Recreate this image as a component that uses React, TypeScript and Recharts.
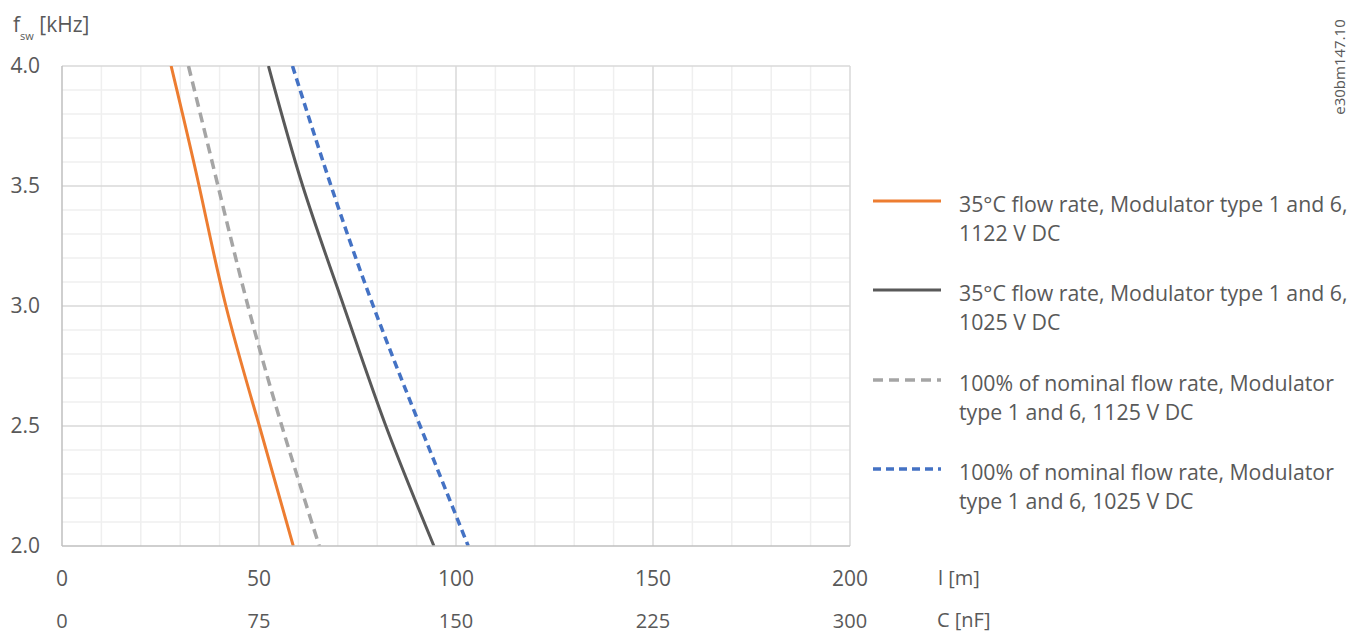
import React from 'react';
import { LineChart, Line, XAxis, YAxis, ReferenceLine } from 'recharts';

const lengthTicks = [0, 50, 100, 150, 200];
const capTicks = [0, 75, 150, 225, 300];
const freqTicks = [2.0, 2.5, 3.0, 3.5, 4.0];
const minorLength = [10, 20, 30, 40, 60, 70, 80, 90, 110, 120, 130, 140, 160, 170, 180, 190];
const minorFreq = [2.1, 2.2, 2.3, 2.4, 2.6, 2.7, 2.8, 2.9, 3.1, 3.2, 3.3, 3.4, 3.6, 3.7, 3.8, 3.9];

const freq = [2.0, 2.5, 3.0, 3.5, 4.0];
const orange1122 = [58.7, 50.1, 41.6, 34.8, 27.7];
const dark1025 = [94.4, 82.2, 71.5, 61.1, 52.4];
const grey1125 = [65.3, 55.8, 47.2, 39.6, 32.1];
const blue1025 = [103.1, 90.9, 79.0, 68.3, 58.5];

const legendLabels = [
  ['35°C flow rate, Modulator type 1 and 6,', '1122 V DC'],
  ['35°C flow rate, Modulator type 1 and 6,', '1025 V DC'],
  ['100% of nominal flow rate, Modulator', 'type 1 and 6, 1125 V DC'],
  ['100% of nominal flow rate, Modulator', 'type 1 and 6, 1025 V DC'],
];

const toSeries = (vals: number[]) =>
  freq.map((f, i) => ({ l: vals[i], f })).sort((a, b) => a.l - b.l);

const FONT = "'Open Sans', sans-serif";
const TEXT = '#595959';
const MINOR = '#efefef';
const MAJOR = '#d9d9d9';

const seriesStyles = [
  { color: '#ED7D31', dash: undefined as string | undefined, width: 3 },
  { color: '#595959', dash: undefined as string | undefined, width: 3 },
  { color: '#A5A5A5', dash: '10 6', width: 3.5 },
  { color: '#4472C4', dash: '8 5', width: 3.5 },
];
const seriesData = [orange1122, dark1025, grey1125, blue1025];

const DualTick = (props: any) => {
  const { x, y, payload, index } = props;
  return (
    <g>
      <text x={x} y={y} textAnchor="middle" dominantBaseline="central" fill={TEXT} fontSize={21} fontFamily={FONT}>
        {payload.value}
      </text>
      <text x={x} y={y + 42} textAnchor="middle" dominantBaseline="central" fill={TEXT} fontSize={20} fontFamily={FONT}>
        {capTicks[index]}
      </text>
    </g>
  );
};

export default function App() {
  const tickStyle = { fill: TEXT, fontSize: 21, fontFamily: FONT };
  const legendTops = [189, 278, 368, 457];
  return (
    <div style={{ position: 'absolute', left: 0, top: 0, width: 1349, height: 635, overflow: 'hidden', background: '#fff', fontFamily: FONT, color: TEXT }}>
      <LineChart width={1349} height={635} margin={{ top: 66, right: 499, bottom: 0, left: 0 }}>
        <XAxis dataKey="l" type="number" domain={[0, 200]} ticks={lengthTicks} allowDataOverflow
          tickSize={0} tickMargin={32} height={89} tick={<DualTick />} interval={0}
          axisLine={{ stroke: '#bfbfbf', strokeWidth: 1.5 }} tickLine={false} />
        <YAxis type="number" domain={[2, 4]} ticks={freqTicks} width={62} allowDataOverflow
          tickSize={0} tickMargin={22} tick={tickStyle} tickFormatter={(v: number) => v.toFixed(1)}
          axisLine={{ stroke: '#bfbfbf', strokeWidth: 1.5 }} tickLine={false} interval={0} />
        {minorLength.map((v) => (
          <ReferenceLine key={'mx' + v} x={v} stroke={MINOR} strokeWidth={1.5} />
        ))}
        {minorFreq.map((v) => (
          <ReferenceLine key={'my' + v} y={v} stroke={MINOR} strokeWidth={1.5} />
        ))}
        {lengthTicks.slice(1).map((v) => (
          <ReferenceLine key={'Mx' + v} x={v} stroke={MAJOR} strokeWidth={1.5} />
        ))}
        {freqTicks.slice(1).map((v) => (
          <ReferenceLine key={'My' + v} y={v} stroke={MAJOR} strokeWidth={1.5} />
        ))}
        {seriesData.map((vals, i) => (
          <Line key={i} data={toSeries(vals)} dataKey="f" type="natural"
            stroke={seriesStyles[i].color} strokeWidth={seriesStyles[i].width}
            strokeDasharray={seriesStyles[i].dash} dot={false} activeDot={false}
            isAnimationActive={false} />
        ))}
      </LineChart>

      <div style={{ position: 'absolute', left: 13, top: 10, fontSize: 21, whiteSpace: 'nowrap', lineHeight: '28px' }}>
        f<span style={{ fontSize: 11, position: 'relative', top: 8 }}>sw</span> [kHz]
      </div>
      <div style={{ position: 'absolute', left: 938, top: 566, fontSize: 20, whiteSpace: 'nowrap', lineHeight: '24px' }}>l [m]</div>
      <div style={{ position: 'absolute', left: 937, top: 608, fontSize: 20, whiteSpace: 'nowrap', lineHeight: '24px' }}>C [nF]</div>

      <svg style={{ position: 'absolute', left: 0, top: 0 }} width={1349} height={635} pointerEvents="none">
        {seriesStyles.map((s, i) => (
          <line key={i} x1={873} x2={941} y1={legendTops[i] + 12} y2={legendTops[i] + 12}
            stroke={s.color} strokeWidth={s.width} strokeDasharray={s.dash} />
        ))}
        <text x={1339} y={67} transform="rotate(-90 1339 67)" textAnchor="middle" dominantBaseline="central"
          fontSize={15} fontFamily={FONT} fill={TEXT}>e30bm147.10</text>
      </svg>

      {legendLabels.map((lines, i) => (
        <div key={i} style={{ position: 'absolute', left: 959, top: legendTops[i], fontSize: 21.3, lineHeight: '29px', whiteSpace: 'nowrap' }}>
          {lines[0]}<br />{lines[1]}
        </div>
      ))}
    </div>
  );
}
